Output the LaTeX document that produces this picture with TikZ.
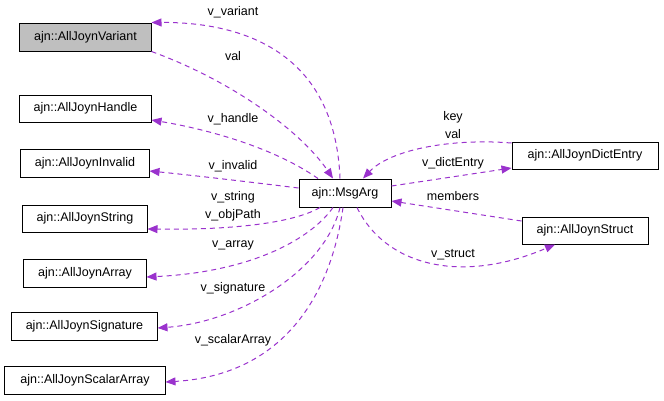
\documentclass[tikz,border=0pt]{standalone}
\usepackage{fontspec}
\setmainfont{Liberation Sans}
\usetikzlibrary{arrows.meta}
\definecolor{edgecol}{HTML}{9A32CD}
\begin{document}
\begin{tikzpicture}[x=1bp,y=-1bp,
  every node/.style={font=\fontsize{12.5bp}{14bp}\selectfont, inner sep=0pt},
  cls/.style={draw=black, line width=1bp, fill=white, minimum height=28bp},
  lbl/.style={anchor=center},
  rel/.style={draw=edgecol, line width=1bp, dash pattern=on 5bp off 4bp,
    -{Triangle[length=10bp,width=8bp,fill=edgecol]}}]
\useasboundingbox (0,0) rectangle (664,400);
% classes
\node[cls, fill={rgb,255:red,191;green,191;blue,191}, minimum width=131bp] (var) at (85.5,37) {ajn::AllJoynVariant};
\node[cls, minimum width=131bp, minimum height=27bp] (hand) at (85.5,108.5) {ajn::AllJoynHandle};
\node[cls, minimum width=128bp] (inv) at (85,163) {ajn::AllJoynInvalid};
\node[cls, minimum width=124bp, minimum height=27bp] (str) at (85,218.5) {ajn::AllJoynString};
\node[cls, minimum width=122bp] (arr) at (85,273) {ajn::AllJoynArray};
\node[cls, minimum width=145bp] (sig) at (84.5,326) {ajn::AllJoynSignature};
\node[cls, minimum width=160bp] (sca) at (85,380) {ajn::AllJoynScalarArray};
\node[cls, minimum width=92bp] (msg) at (345,193) {ajn::MsgArg};
\node[cls, minimum width=146bp, minimum height=27bp] (dict) at (585,155.5) {ajn::AllJoynDictEntry};
\node[cls, minimum width=126bp, minimum height=27bp] (struct) at (585,230.5) {ajn::AllJoynStruct};
% connectors
\draw[rel] ([xshift=-5bp]msg.north) .. controls (335,50) and (240,22) .. (var.north east);
\draw[rel] (var.south east) .. controls (230,80) and (300,130) .. ([xshift=-12bp]msg.north);
\draw[rel] ([xshift=-27bp]msg.north) .. controls (270,145) and (200,128) .. ([yshift=-11.5bp]hand.east);
\draw[rel] ([yshift=5bp]msg.west) .. controls (250,182) and (190,175) .. ([yshift=-8bp]inv.east);
\draw[rel] ([xshift=-25bp]msg.south) .. controls (290,225) and (220,230) .. ([yshift=-10.5bp]str.east);
\draw[rel] ([xshift=-12bp]msg.south) .. controls (310,240) and (250,272) .. ([yshift=-4bp]arr.east);
\draw[rel] ([xshift=-5bp]msg.south) .. controls (325,270) and (240,322) .. ([yshift=-2bp]sig.east);
\draw[rel] ([xshift=-2bp]msg.south) .. controls (330,300) and (280,375) .. ([yshift=-2bp]sca.east);
\draw[rel] ([yshift=12.5bp]dict.west) .. controls (450,138) and (390,150) .. ([xshift=18bp]msg.north);
\draw[rel] ([yshift=7bp]msg.east) -- ([yshift=-12.5bp]dict.west);
\draw[rel] ([yshift=9.5bp]struct.west) -- ([yshift=-8bp]msg.east);
\draw[rel] ([xshift=12bp]msg.south) .. controls (385,265) and (460,285) .. ([xshift=-30bp]struct.south);
% labels
\node[lbl] (l1) at (233,12) {v\_variant};
\node[lbl] (l2) at (233,56) {val};
\node[lbl] (l3) at (233,119) {v\_handle};
\node[lbl] (l4) at (233,166) {v\_invalid};
\node[lbl] (l5) at (233,197) {v\_string};
\node[lbl] (l6) at (233,215) {v\_objPath};
\node[lbl] (l7) at (233,245) {v\_array};
\node[lbl] (l8) at (233,288) {v\_signature};
\node[lbl] (l9) at (233,340) {v\_scalarArray};
\node[lbl] (l10) at (453,117) {key};
\node[lbl] (l11) at (453,134) {val};
\node[lbl] (l12) at (453,163) {v\_dictEntry};
\node[lbl] (l13) at (453,196) {members};
\node[lbl] (l14) at (453,255) {v\_struct};
\end{tikzpicture}
\end{document}
